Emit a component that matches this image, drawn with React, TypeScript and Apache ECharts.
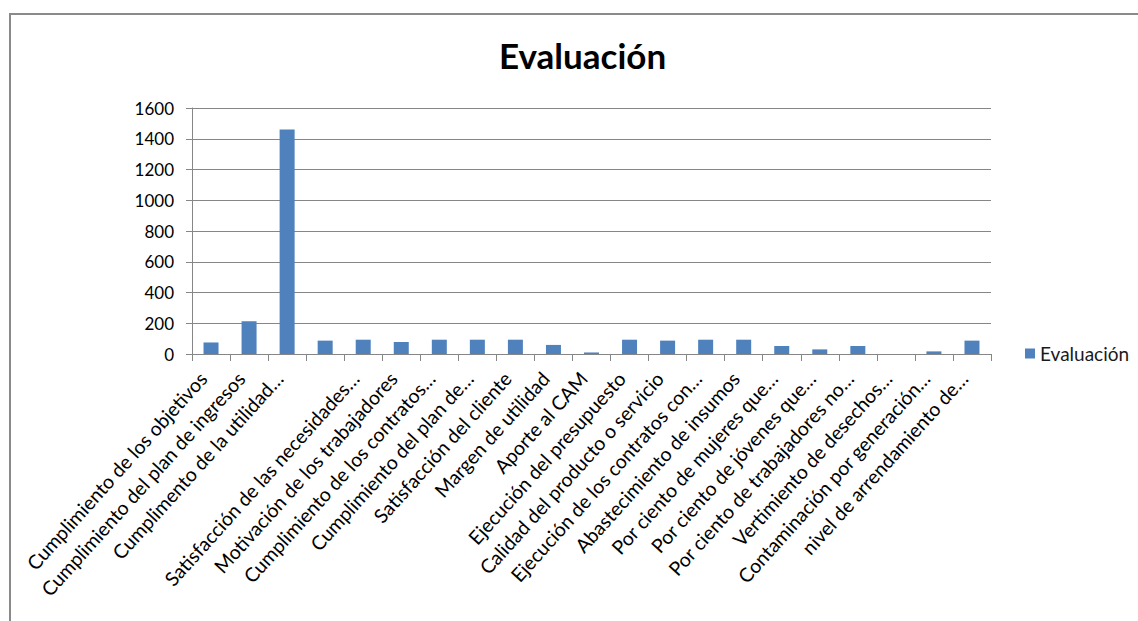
import React, { useEffect, useRef } from "react";
import * as echarts from "echarts";

const categories: string[] = [
  "Cumplimiento de los objetivos",
  "Cumplimiento del plan de ingresos",
  "Cumplimento de la utilidad…",
  "",
  "Satisfacción de las necesidades…",
  "Motivación de los trabajadores",
  "Cumplimiento de los contratos…",
  "Cumplimiento del plan de…",
  "Satisfacción del cliente",
  "Margen de utilidad",
  "Aporte al CAM",
  "Ejecución del presupuesto",
  "Calidad del producto o servicio",
  "Ejecución de los contratos con…",
  "Abastecimiento de insumos",
  "Por ciento de mujeres que…",
  "Por ciento de jóvenes que…",
  "Por ciento de trabajadores no…",
  "Vertimiento de desechos…",
  "Contaminación por generación…",
  "nivel de arrendamiento de…",
];

const evaluacion: number[] = [
  75, 213, 1460, 87, 93, 78, 93, 93, 93, 59, 10, 93, 87, 93, 93, 52, 30, 52, 0, 17, 87,
];

const seriesName = "Evaluación";
const titleText = "Evaluación";

export default function App() {
  const ref = useRef<HTMLDivElement>(null);
  useEffect(() => {
    if (!ref.current) return;
    const chart = echarts.init(ref.current, undefined, { renderer: "svg" });
    const font = "Lato, 'Open Sans', sans-serif";
    chart.setOption({
      animation: false,
      backgroundColor: "#ffffff",
      textStyle: { fontFamily: font },
      title: {
        text: titleText,
        left: 494,
        top: 32,
        textStyle: { fontFamily: font, fontSize: 35, fontWeight: "bold", color: "#000" },
      },
      legend: {
        data: [seriesName],
        orient: "vertical",
        left: 1020,
        top: 339,
        icon: "rect",
        itemWidth: 10,
        itemHeight: 10,
        itemGap: 6,
        textStyle: { fontFamily: font, fontSize: 19, color: "#1a1a1a" },
      },
      grid: { left: 192, right: 147, top: 108, bottom: 267, containLabel: false },
      xAxis: {
        type: "category",
        data: categories,
        boundaryGap: true,
        axisLine: { show: true, lineStyle: { color: "#868686", width: 1 } },
        axisTick: { show: true, length: 7, interval: 0, lineStyle: { color: "#868686" } },
        axisLabel: {
          interval: 0,
          rotate: 48,
          margin: 12,
          padding: [0, 12, 0, 0],
          fontFamily: font,
          fontSize: 19.5,
          color: "#000",
        },
        splitLine: { show: false },
      },
      yAxis: {
        type: "value",
        min: 0,
        max: 1600,
        interval: 200,
        axisLine: { show: true, lineStyle: { color: "#868686", width: 1 } },
        axisTick: { show: true, length: 6, lineStyle: { color: "#868686" } },
        axisLabel: {
          margin: 18,
          fontFamily: font,
          fontSize: 17,
          color: "#000",
          formatter: (v: number) => String(v),
        },
        splitLine: { show: true, lineStyle: { color: "#868686", width: 1 } },
      },
      series: [
        {
          name: seriesName,
          type: "bar",
          data: evaluacion,
          barWidth: 15,
          itemStyle: { color: "#4F81BD" },
        },
      ],
      graphic: [
        {
          type: "line",
          shape: { x1: 9, y1: 14, x2: 1138, y2: 14 },
          style: { stroke: "#8a8a8a", lineWidth: 2 },
          silent: true,
        },
        {
          type: "line",
          shape: { x1: 10, y1: 13, x2: 10, y2: 621 },
          style: { stroke: "#8a8a8a", lineWidth: 2 },
          silent: true,
        },
      ],
    });
    return () => chart.dispose();
  }, []);
  return (
    <div
      ref={ref}
      style={{ position: "fixed", left: 0, top: 0, width: 1138, height: 621 }}
    />
  );
}
